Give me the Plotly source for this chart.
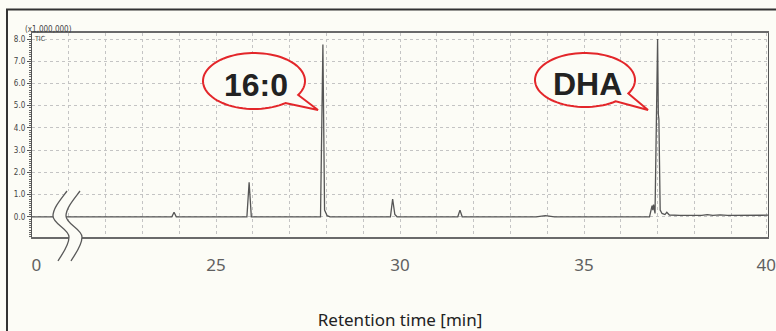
import math
import plotly.graph_objects as go

# ---------------- data ----------------
time_min = [20.00, 23.80, 23.86, 23.92,
            25.84, 25.90, 25.96,
            27.84, 27.905, 27.95, 28.02, 28.10,
            29.74, 29.80, 29.86, 29.92,
            31.57, 31.63, 31.69,
            33.70, 33.95, 34.20,
            36.78, 36.85, 36.87, 36.89, 36.93, 37.00, 37.02, 37.035, 37.07, 37.12, 37.20, 37.25, 37.32,
            37.60, 38.20, 38.35, 38.50, 38.70, 38.90, 40.00]
intensity = [0.00, 0.00, 0.20, 0.00,
             0.00, 1.55, 0.00,
             0.00, 7.75, 0.30, 0.05, 0.00,
             0.00, 0.80, 0.10, 0.00,
             0.00, 0.30, 0.00,
             0.00, 0.05, 0.00,
             0.00, 0.50, 0.30, 0.55, 0.15, 8.00, 4.60, 4.40, 0.30, 0.15, 0.10, 0.20, 0.08,
             0.06, 0.06, 0.10, 0.06, 0.09, 0.06, 0.07]

x_tick_vals = [20, 25, 30, 35, 39.95]
x_tick_text = ["\u00a0\u00a00", "25", "30", "35", "40"]
y_tick_vals = [0, 1, 2, 3, 4, 5, 6, 7, 8]
y_tick_text = ["0.0", "1.0", "2.0", "3.0", "4.0", "5.0", "6.0", "7.0", "8.0"]
callout_labels = ["16:0", "DHA"]

# ---------------- layout geometry (pixels) ----------------
W, H = 776, 331
L, R, T, B = 32, 768, 33, 237
BG = "#fcfcf6"


def P(x, y):
    return f"{(x - L) / (R - L):.5f},{(B - y) / (B - T):.5f}"


def pp(x, y):
    return (x - L) / (R - L), (B - y) / (B - T)


fig = go.Figure()
fig.add_trace(go.Scatter(x=time_min, y=intensity, mode="lines",
                         line=dict(color="#555555", width=1.3),
                         hoverinfo="skip", showlegend=False))

grid_col = "#c4c4c4"
fig.update_layout(
    width=W, height=H,
    margin=dict(l=L, r=W - R, t=T, b=H - B),
    paper_bgcolor=BG, plot_bgcolor=BG,
    showlegend=False,
    xaxis=dict(range=[20, 40], tickmode="array", tickvals=x_tick_vals, ticktext=x_tick_text,
               automargin=False, ticklabeloverflow="allow",
               ticks="", showgrid=True, gridcolor=grid_col, griddash="dot", gridwidth=1,
               minor=dict(dtick=1, tick0=20, showgrid=True, gridcolor=grid_col, griddash="dot"),
               showline=True, linecolor="#6a6a6a", linewidth=1.5, mirror=True, zeroline=False,
               tickfont=dict(family="Noto Sans", size=17, color="#606060"),
               ticklabelstandoff=12,
               title=dict(text="Retention time [min]",
                          font=dict(family="Noto Sans", size=17, color="#222222"),
                          standoff=40)),
    yaxis=dict(range=[-0.91, 8.27], tickmode="array", tickvals=y_tick_vals, ticktext=y_tick_text,
               automargin=False,
               ticks="outside", ticklen=4, tickcolor="#555555",
               showgrid=True, gridcolor=grid_col, griddash="dot", gridwidth=1,
               minor=dict(dtick=0.1, tick0=0, ticks="outside", ticklen=2, tickcolor="#666666",
                          showgrid=False),
               showline=True, linecolor="#555555", linewidth=1.3, mirror=True, zeroline=False,
               tickfont=dict(family="DejaVu Sans Condensed, DejaVu Sans", size=8, color="#444444")),
)

shapes = []
# outer frame
shapes.append(dict(type="path", xref="paper", yref="paper",
                   path=f"M {P(7, 345)} L {P(7, 9.5)} L {P(790, 9.5)}",
                   line=dict(color="#333333", width=2)))

# axis break symbol
c1 = [(67, 191), (61, 199), (53, 208), (53, 216), (53, 224), (69, 229), (69, 237),
      (69, 246), (62, 254), (58, 261)]
c2 = [(x + 13, y) for x, y in c1]


def bez(pts):
    s = f"M {P(*pts[0])}"
    for i in range(1, len(pts), 3):
        s += f" C {P(*pts[i])} {P(*pts[i+1])} {P(*pts[i+2])}"
    return s


c2r = list(reversed(c2))
fill_path = bez(c1) + f" L {P(*c2r[0])}"
for i in range(1, len(c2r), 3):
    fill_path += f" C {P(*c2r[i])} {P(*c2r[i+1])} {P(*c2r[i+2])}"
fill_path += " Z"
shapes.append(dict(type="path", xref="paper", yref="paper", path=fill_path,
                   fillcolor=BG, line=dict(width=0)))
for c in (c1, c2):
    shapes.append(dict(type="path", xref="paper", yref="paper", path=bez(c),
                       line=dict(color="#5a5a5a", width=1.3)))


# speech bubbles
def bubble(cx, cy, rx, ry, tip, a1=30, a2=52):
    pts = []
    n = 80
    for k in range(n + 1):
        a = math.radians(a2 + (360 - (a2 - a1)) * k / n)
        pts.append((cx + rx * math.cos(a), cy + ry * math.sin(a)))
    s = f"M {P(*pts[0])}"
    for p in pts[1:]:
        s += f" L {P(*p)}"
    s += f" L {P(*tip)} Z"
    return s


shapes.append(dict(type="path", xref="paper", yref="paper",
                   path=bubble(254, 81, 51, 28, (318, 110)),
                   fillcolor=BG, line=dict(color="#e3262a", width=2)))
shapes.append(dict(type="path", xref="paper", yref="paper",
                   path=bubble(585, 80, 50, 27, (648, 110)),
                   fillcolor=BG, line=dict(color="#e3262a", width=2)))
fig.update_layout(shapes=shapes)

ann = []
for label, (x, y) in zip(callout_labels, [(255.5, 85), (587.5, 84)]):
    ax, ay = pp(x, y)
    ann.append(dict(x=ax, y=ay, xref="paper", yref="paper", text=f"<b>{label}</b>",
                    showarrow=False, xanchor="center", yanchor="middle",
                    font=dict(family="Liberation Sans, Arial", size=32, color="#222222")))
ax, ay = pp(48, 29.5)
ann.append(dict(x=ax, y=ay, xref="paper", yref="paper", text="(x1,000,000)", showarrow=False,
                xanchor="center", yanchor="middle",
                font=dict(family="DejaVu Sans Condensed, DejaVu Sans", size=8, color="#444444")))
ax, ay = pp(39.5, 39)
ann.append(dict(x=ax, y=ay, xref="paper", yref="paper", text="TIC", showarrow=False,
                xanchor="center", yanchor="middle",
                font=dict(family="DejaVu Sans Condensed, DejaVu Sans", size=7, color="#444444")))
fig.update_layout(annotations=ann)

fig.write_html("out.html", config={"displayModeBar": False},
               post_script="document.body.style.margin='0';document.body.style.overflow='hidden';")
